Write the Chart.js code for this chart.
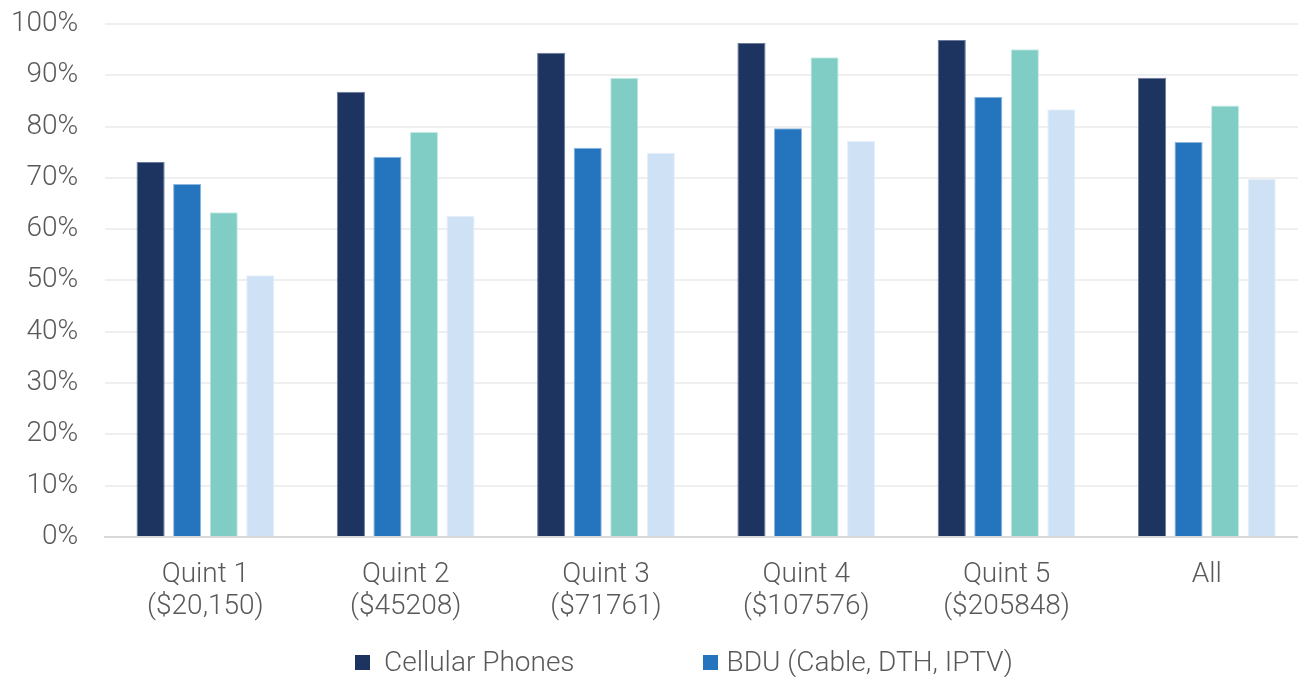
<!DOCTYPE html>
<html lang="en">
<head>
<meta charset="UTF-8">
<title>Household service penetration by income quintile</title>
<script src="https://cdn.jsdelivr.net/npm/chart.js"></script>
<style>
    html, body { margin: 0; padding: 0; background: #fff; overflow: hidden; }
    body { width: 1298px; height: 677px; position: relative; font-family: 'Roboto', sans-serif; }
    .chart-wrap { position: absolute; left: 0; top: 0; width: 1310px; height: 677px; }
    #legend { position: absolute; left: 355px; top: 645px; display: flex; align-items: center; font-weight: 300; font-size: 28px; line-height: 34px; color: #595959; }
    #legend .item { display: flex; align-items: center; white-space: nowrap; }
    #legend .box { width: 15px; height: 15px; display: inline-block; }
</style>
</head>
<body>
<div class="chart-wrap"><canvas id="quintChart" width="1310" height="677"></canvas></div>
<div id="legend"></div>

<script>
    // Data
    const categories = [['Quint 1', '($20,150)'], ['Quint 2', '($45208)'], ['Quint 3', '($71761)'], ['Quint 4', '($107576)'], ['Quint 5', '($205848)'], 'All'];
    const seriesNames = ['Cellular Phones', 'BDU (Cable, DTH, IPTV)', 'Internet', 'Landline'];
    const cellular = [73.1, 86.8, 94.4, 96.3, 96.9, 89.5];
    const bdu = [68.8, 74.1, 75.9, 79.7, 85.8, 77.0];
    const internet = [63.3, 79.0, 89.5, 93.5, 95.1, 84.1];
    const landline = [51.0, 62.6, 74.9, 77.2, 83.4, 69.8];
    const yTicks = [0, 10, 20, 30, 40, 50, 60, 70, 80, 90, 100];

    // Colors
    const colors = ['#1d3461', '#2475be', '#7fcdc4', '#cfe2f5'];
    const edges = ['#6b7a99', '#8fb6dd', '#c9ebe6', '#e6f0fa'];
    const shownInLegend = 2;

    const seriesData = [cellular, bdu, internet, landline];
    const textColor = '#595959';
    const tickFont = { family: 'Roboto', size: 28, weight: 300, lineHeight: 1.143 };

    const chart = new Chart(document.getElementById('quintChart'), {
        type: 'bar',
        data: {
            labels: categories,
            datasets: seriesData.map((d, i) => ({
                label: seriesNames[i],
                data: d,
                backgroundColor: colors[i],
                borderColor: edges[i],
                borderWidth: { top: 1, left: 1, right: 1, bottom: 0 },
                categoryPercentage: 0.73,
                barPercentage: 0.77
            }))
        },
        options: {
            responsive: false,
            animation: false,
            layout: { padding: { top: 0, left: 3, right: 3, bottom: 32 } },
            plugins: {
                legend: { display: false },
                tooltip: { enabled: false }
            },
            scales: {
                x: {
                    grid: { display: false, drawTicks: false },
                    border: { display: true, color: '#d9d9d9', width: 2 },
                    ticks: { color: textColor, font: tickFont, padding: 22, maxRotation: 0 }
                },
                y: {
                    min: 0,
                    max: 100,
                    afterBuildTicks: axis => { axis.ticks = yTicks.map(v => ({ value: v })); },
                    grid: { color: '#efefef', lineWidth: 2, drawTicks: true, tickLength: 19, tickColor: 'rgba(0,0,0,0)' },
                    border: { display: false },
                    ticks: {
                        color: textColor,
                        font: tickFont,
                        padding: 8,
                        callback: v => v + '%'
                    }
                }
            }
        }
    });

    // HTML legend (only first two series, as in the source)
    const legendEl = document.getElementById('legend');
    const gaps = [14, 9];
    const spacing = [128];
    chart.data.datasets.slice(0, shownInLegend).forEach((ds, i) => {
        const item = document.createElement('span');
        item.className = 'item';
        if (i > 0) item.style.marginLeft = spacing[i - 1] + 'px';
        const box = document.createElement('span');
        box.className = 'box';
        box.style.background = ds.backgroundColor;
        box.style.marginRight = gaps[i] + 'px';
        const txt = document.createElement('span');
        txt.textContent = ds.label;
        item.appendChild(box);
        item.appendChild(txt);
        legendEl.appendChild(item);
    });
</script>
</body>
</html>
